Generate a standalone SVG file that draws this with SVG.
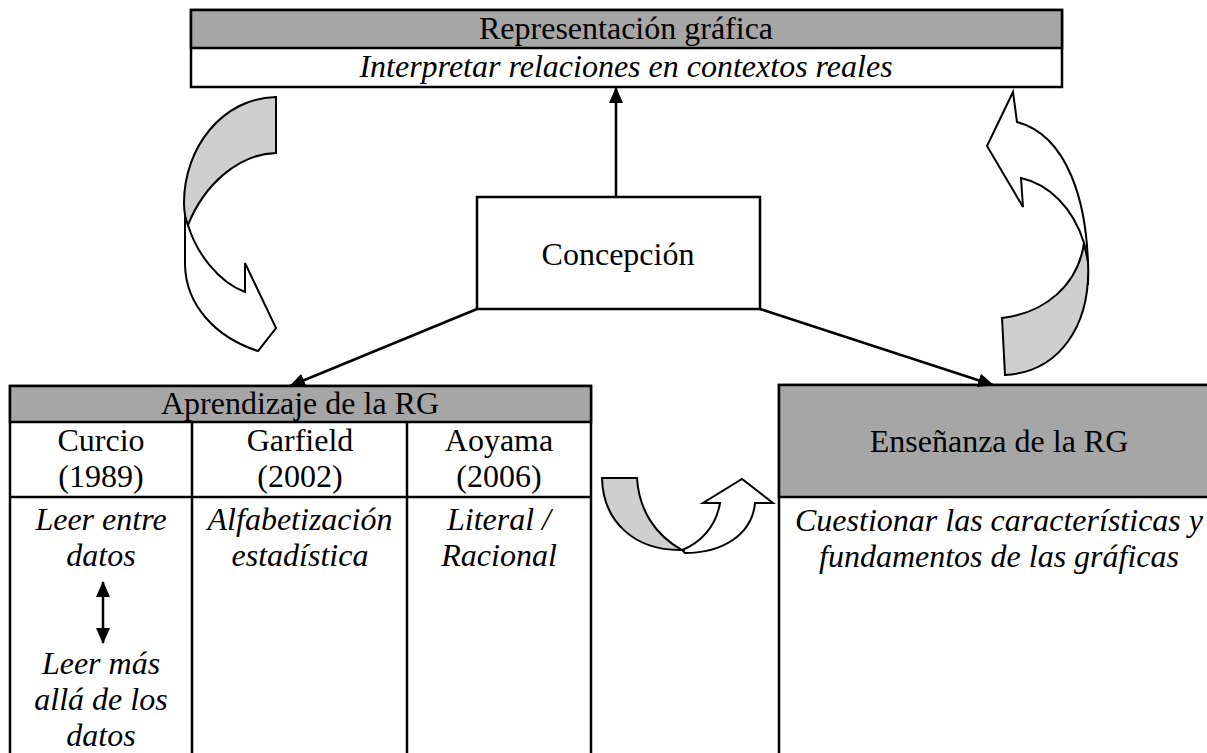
<svg xmlns="http://www.w3.org/2000/svg" width="1207" height="753" viewBox="0 0 1207 753">
<style>
.t{font-family:"Liberation Serif","Times New Roman",serif;font-size:32px;fill:#000;text-anchor:middle}
.i{font-style:italic}
.box{fill:#fff;stroke:#000;stroke-width:2.5}
.hdr{fill:#a6a6a6;stroke:#000;stroke-width:2.5}
.ln{stroke:#000;stroke-width:2.5;fill:none}
.conn{stroke:#000;stroke-width:2.5;fill:none;marker-end:url(#ah)}
.cw{fill:#fff;stroke:#000;stroke-width:2;stroke-linejoin:miter}
.cg{fill:#cfcfcf;stroke:#000;stroke-width:2;stroke-linejoin:miter}
</style>
<defs>
<marker id="ah" viewBox="0 0 16 14" refX="15" refY="7" markerWidth="16" markerHeight="14" markerUnits="userSpaceOnUse" orient="auto-start-reverse">
<path d="M0,0 L16,7 L0,14 Z" fill="#000"/>
</marker>
</defs>
<rect width="1207" height="753" fill="#fff"/>

<g id="representacion">
<rect class="box" x="191" y="10" width="871" height="77"/>
<rect class="hdr" x="191" y="10" width="871" height="38"/>
<text class="t" x="626" y="39">Representación gráfica</text>
<text class="t i" x="626" y="77">Interpretar relaciones en contextos reales</text>
</g>

<g id="concepcion">
<rect class="box" x="477" y="197" width="283" height="112"/>
<text class="t" x="618" y="265">Concepción</text>
</g>

<g id="aprendizaje">
<rect class="box" x="10" y="386" width="581" height="380"/>
<rect class="hdr" x="10" y="386" width="581" height="36"/>
<line class="ln" x1="10" y1="497" x2="591" y2="497"/>
<line class="ln" x1="192" y1="422" x2="192" y2="760"/>
<line class="ln" x1="407" y1="422" x2="407" y2="760"/>
<text class="t" x="300" y="414">Aprendizaje de la RG</text>
<text class="t" x="101" y="451">Curcio</text>
<text class="t" x="101" y="487">(1989)</text>
<text class="t" x="300" y="451">Garfield</text>
<text class="t" x="300" y="487">(2002)</text>
<text class="t" x="499" y="451">Aoyama</text>
<text class="t" x="499" y="487">(2006)</text>
<text class="t i" x="101" y="530">Leer entre</text>
<text class="t i" x="101" y="566">datos</text>
<line class="ln" x1="103" y1="582" x2="103" y2="643" style="marker-start:url(#ah);marker-end:url(#ah)"/>
<text class="t i" x="101" y="674">Leer más</text>
<text class="t i" x="101" y="710">allá de los</text>
<text class="t i" x="101" y="746">datos</text>
<text class="t i" x="300" y="530">Alfabetización</text>
<text class="t i" x="300" y="566">estadística</text>
<text class="t i" x="499" y="530">Literal /</text>
<text class="t i" x="499" y="566">Racional</text>
</g>

<g id="ensenanza">
<rect class="box" x="779" y="385" width="440" height="380"/>
<rect class="hdr" x="779" y="385" width="440" height="112"/>
<text class="t" x="999" y="452">Enseñanza de la RG</text>
<text class="t i" x="999" y="531">Cuestionar las características y</text>
<text class="t i" x="999" y="567">fundamentos de las gráficas</text>
</g>

<g id="curved-arrows">
<g id="arrow-left">
<path class="cw" d="M188,225 C196,252 218,282 245,292 L245,263 L276,328 L258,351 C215,337 186,305 185,265 L185,210 Z"/>
<path class="cg" d="M276,97 L276,153 C238,154 204,185 188,225 C185,218 184,210 184,203 C184,148 222,98 276,97 Z"/>
</g>
<g id="arrow-right">
<path class="cw" d="M1017,122 L1013,92 L987,146 L1023,207 L1021,178 C1048,184 1073,207 1084,243 L1088,285 C1090,200 1066,135 1017,122 Z"/>
<path class="cg" d="M1084,243 C1078,285 1045,313 1002,318 L1005,375 C1060,372 1091,325 1088,262 Z"/>
</g>
<g id="arrow-bottom">
<path class="cw" d="M682,550 C700,543 716,527 720,503 L703,503 L742,479 L773,503 L755,503 C752,535 722,553 685,553 Z"/>
<path class="cg" d="M602,478 L637,478 C639,510 655,535 682,550 C635,551 603,522 602,478 Z"/>
</g>
</g>

<g id="connectors">
<line class="conn" x1="616" y1="197" x2="616" y2="88"/>
<line class="conn" x1="477" y1="309" x2="290" y2="386"/>
<line class="conn" x1="760" y1="309" x2="993" y2="385"/>
</g>
</svg>
